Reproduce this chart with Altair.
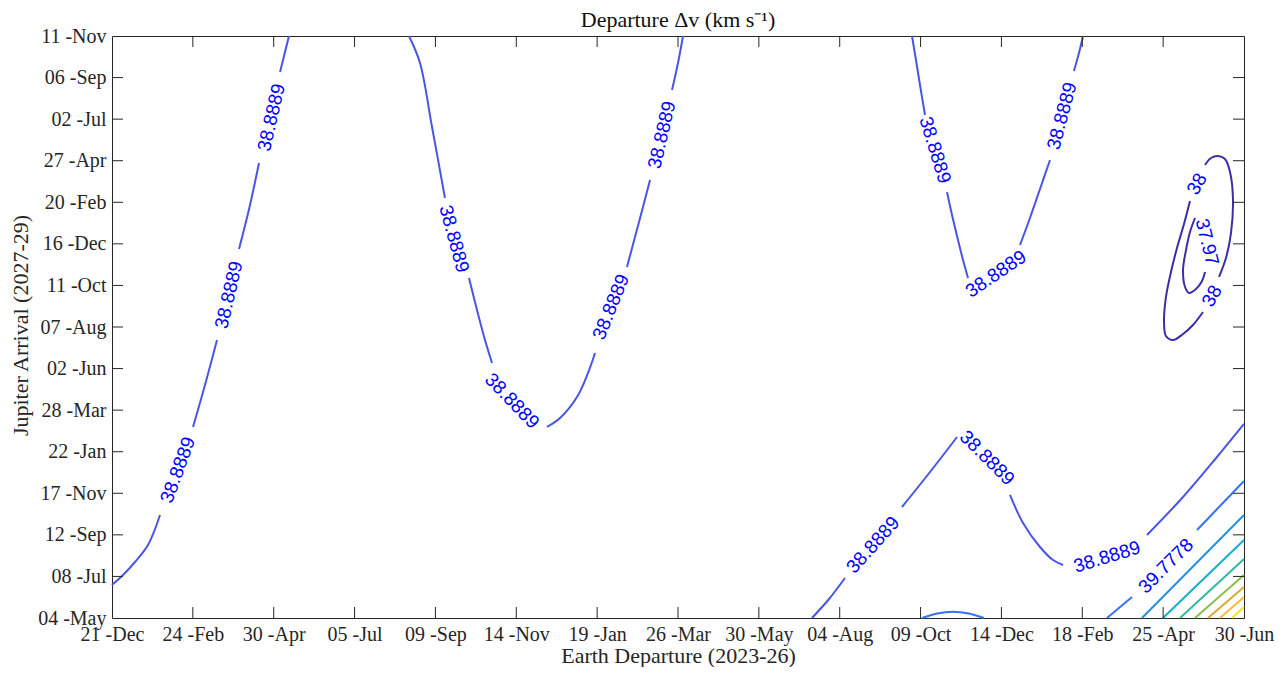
import altair as alt
import pandas as pd

# ---------------- tick labels ----------------
X_TICK_LABELS = ["21 -Dec", "24 -Feb", "30 -Apr", "05 -Jul", "09 -Sep", "14 -Nov", "19 -Jan",
                 "26 -Mar", "30 -May", "04 -Aug", "09 -Oct", "14 -Dec", "18 -Feb", "25 -Apr", "30 -Jun"]
Y_TICK_LABELS = ["04 -May", "08 -Jul", "12 -Sep", "17 -Nov", "22 -Jan", "28 -Mar", "02 -Jun",
                 "07 -Aug", "11 -Oct", "16 -Dec", "20 -Feb", "27 -Apr", "02 -Jul", "06 -Sep", "11 -Nov"]

# ---------------- contour segments (x, y in tick-interval units) ----------------
# level 38.8889, left branch
A1_X = [0.000, 0.136, 0.284, 0.445, 0.594]; A1_Y = [0.794, 1.034, 1.347, 1.756, 2.478]
A2_X = [1.002, 1.150, 1.299];               A2_Y = [4.595, 5.605, 6.687]
A3_X = [1.571, 1.707, 1.818];               A3_Y = [8.876, 9.935, 10.945]
A4_X = [2.078, 2.189];                      A4_Y = [13.134, 14.0]
# level 38.8889, middle U
B1_X = [3.673, 3.809, 3.958, 4.118];        B1_Y = [14.0, 13.351, 11.811, 10.103]
B2_X = [4.415, 4.514, 4.613, 4.700];        B2_Y = [8.179, 7.409, 6.687, 6.134]
B3_X = [5.380, 5.541, 5.751, 5.887, 5.974]; B3_Y = [4.595, 4.811, 5.316, 5.894, 6.375]
B4_X = [6.369, 6.468, 6.567, 6.654];        B4_Y = [8.443, 9.165, 9.887, 10.536]
B5_X = [6.926, 7.000, 7.062];               B5_Y = [12.701, 13.351, 14.0]
# level 38.8889, right U
C1_X = [9.894, 9.943, 9.993, 10.055];       C1_Y = [14.0, 13.423, 12.821, 12.100]
C2_X = [10.327, 10.389, 10.463, 10.525, 10.587]; C2_Y = [10.248, 9.694, 9.093, 8.612, 8.179]
C3_X = [11.230, 11.353, 11.477, 11.601];    C3_Y = [8.973, 9.622, 10.320, 11.017]
C4_X = [11.897, 11.959, 12.009];            C4_Y = [13.158, 13.591, 14.0]
# level 38.8889, lower curve
D1_X = [8.657, 8.868, 9.065];               D1_Y = [0.0, 0.457, 0.962]
D2_X = [9.770, 10.117, 10.451];             D2_Y = [2.670, 3.512, 4.354]
D3_X = [11.106, 11.267, 11.477, 11.638, 11.762]; D3_Y = [2.959, 2.285, 1.708, 1.395, 1.275]
D4_X = [12.800, 13.246, 13.666, 14.0];      D4_Y = [1.997, 2.911, 3.873, 4.667]
# level 39.7778
E1_X = [12.306, 12.615];                    E1_Y = [0.0, 0.505]
E2_X = [13.419, 13.703, 14.0];              E2_Y = [2.117, 2.694, 3.296]
ARC_X = [10.018, 10.203, 10.401, 10.599, 10.784]; ARC_Y = [0.0, 0.108, 0.152, 0.108, 0.0]
# higher levels, bottom-right corner: start on bottom edge, end on right edge
F_X0 = [12.738, 12.998, 13.209, 13.394, 13.555, 13.703, 13.852]
F_Y1 = [2.478, 1.876, 1.419, 1.034, 0.746, 0.505, 0.265]
F_COLORS = ["#2291de", "#12b0cc", "#33b99e", "#86bf4d", "#dcaa33", "#f7bd30", "#f6e31c"]
# level 38 (outer ellipse)
G1_X = [13.518, 13.592, 13.678, 13.765, 13.827, 13.864, 13.839, 13.777, 13.691]
G1_Y = [10.897, 11.065, 11.114, 11.041, 10.729, 10.055, 9.261, 8.660, 8.203]
G2_X = [13.493, 13.369, 13.246, 13.122, 13.035, 13.011, 13.035, 13.097, 13.171, 13.258, 13.332]
G2_Y = [7.361, 7.048, 6.832, 6.687, 6.784, 7.120, 7.722, 8.323, 8.900, 9.478, 10.031]
# level 37.97 (inner ellipse)
H_X = [13.394, 13.332, 13.283, 13.246, 13.271, 13.320, 13.406, 13.481, 13.518]
H_Y = [9.622, 9.285, 8.852, 8.371, 7.962, 7.818, 7.914, 8.107, 8.323]

# ---------------- inline contour labels ----------------
LABEL_TEXT = ["38.8889"] * 13 + ["39.7778", "38", "38", "37.97"]
LABEL_X = [0.816, 1.447, 1.973, 4.230, 4.947, 6.171, 6.802, 10.178, 10.933, 11.749,
           9.412, 10.822, 12.306, 13.035, 13.419, 13.604, 13.542]
LABEL_Y = [3.560, 7.770, 12.040, 9.117, 5.220, 7.481, 11.619, 11.258, 8.275, 12.076,
           1.756, 3.849, 1.467, 1.251, 10.440, 7.746, 9.045]
LABEL_ANGLE = [290, 283, 283, 75, 46, 292, 283, 73, 326, 285, 312, 45, 343, 315, 300, 300, 76]

C_38 = "#3b2ea6"
C_3889 = "#4b55e4"
C_3978 = "#3574f0"

segments = [
    ("A1", A1_X, A1_Y, C_3889), ("A2", A2_X, A2_Y, C_3889), ("A3", A3_X, A3_Y, C_3889), ("A4", A4_X, A4_Y, C_3889),
    ("B1", B1_X, B1_Y, C_3889), ("B2", B2_X, B2_Y, C_3889), ("B3", B3_X, B3_Y, C_3889), ("B4", B4_X, B4_Y, C_3889),
    ("B5", B5_X, B5_Y, C_3889),
    ("C1", C1_X, C1_Y, C_3889), ("C2", C2_X, C2_Y, C_3889), ("C3", C3_X, C3_Y, C_3889), ("C4", C4_X, C4_Y, C_3889),
    ("D1", D1_X, D1_Y, C_3889), ("D2", D2_X, D2_Y, C_3889), ("D3", D3_X, D3_Y, C_3889), ("D4", D4_X, D4_Y, C_3889),
    ("E1", E1_X, E1_Y, C_3978), ("E2", E2_X, E2_Y, C_3978), ("ARC", ARC_X, ARC_Y, C_3978),
    ("G1", G1_X, G1_Y, C_38), ("G2", G2_X, G2_Y, C_38), ("H", H_X, H_Y, C_38),
]
for k, (x0, y1, col) in enumerate(zip(F_X0, F_Y1, F_COLORS)):
    segments.append((f"F{k + 1}", [x0, 14.0], [0.0, y1], col))

rows = []
for name, xs, ys, col in segments:
    for i, (xv, yv) in enumerate(zip(xs, ys)):
        rows.append({"seg": name, "i": i, "x": xv, "y": yv, "color": col})
lines_df = pd.DataFrame(rows)

labels_df = pd.DataFrame({"x": LABEL_X, "y": LABEL_Y, "text": LABEL_TEXT, "angle": LABEL_ANGLE})
xticks_df = pd.DataFrame({"x": list(range(1, 14))})
yticks_df = pd.DataFrame({"y": list(range(1, 14))})

W, H = 1132, 582
AX = "#262626"
SERIF = "Liberation Serif"

x_scale = alt.Scale(domain=[0, 14], nice=False, zero=False)
y_scale = alt.Scale(domain=[0, 14], nice=False, zero=False)


def lab_expr(labels):
    parts = " : ".join([f"datum.value == {i} ? '{t}'" for i, t in enumerate(labels)])
    return parts + " : ''"


x_axis = alt.Axis(
    values=list(range(15)), labelExpr=lab_expr(X_TICK_LABELS),
    title="Earth Departure (2023-26)", grid=False, ticks=False, domain=False,
    labelFlush=False, labelOverlap=False, labelBaseline="alphabetic", labelPadding=22,
    labelFont=SERIF, labelFontSize=20, labelColor=AX,
    titleFont=SERIF, titleFontSize=22, titleFontWeight="normal", titleColor=AX,
    titleBaseline="alphabetic", titleX=566, titleY=44, titleAlign="center",
)
y_axis = alt.Axis(
    values=list(range(15)), labelExpr=lab_expr(Y_TICK_LABELS),
    title="Jupiter Arrival (2027-29)", grid=False, ticks=False, domain=False,
    labelFlush=False, labelOverlap=False, labelBaseline="middle", labelPadding=6,
    labelFont=SERIF, labelFontSize=20, labelColor=AX,
    titleFont=SERIF, titleFontSize=22, titleFontWeight="normal", titleColor=AX,
    titleAngle=270, titleBaseline="alphabetic", titleX=-85, titleY=289, titleAlign="center",
)

X_ENC = alt.X("x:Q", scale=x_scale, axis=x_axis)
Y_ENC = alt.Y("y:Q", scale=y_scale, axis=y_axis)

lines = alt.Chart(lines_df).mark_line(strokeWidth=2, interpolate="catmull-rom").encode(
    x=X_ENC,
    y=Y_ENC,
    detail="seg:N",
    order="i:Q",
    color=alt.Color("color:N", scale=None),
)

labels = alt.Chart(labels_df).mark_text(
    font="Liberation Sans", fontSize=19, color="#0000ff", align="center", baseline="middle"
).encode(
    x=X_ENC,
    y=Y_ENC,
    text="text:N",
    angle=alt.Angle("angle:Q", scale=None),
)

TL = 11
tick_bottom = alt.Chart(xticks_df).mark_rule(color=AX, strokeWidth=1).encode(
    x=X_ENC, y=alt.value(H), y2=alt.value(H - TL))
tick_top = alt.Chart(xticks_df).mark_rule(color=AX, strokeWidth=1).encode(
    x=X_ENC, y=alt.value(0), y2=alt.value(TL))
tick_left = alt.Chart(yticks_df).mark_rule(color=AX, strokeWidth=1).encode(
    y=Y_ENC, x=alt.value(0), x2=alt.value(TL))
tick_right = alt.Chart(yticks_df).mark_rule(color=AX, strokeWidth=1).encode(
    y=Y_ENC, x=alt.value(W), x2=alt.value(W - TL))

chart = alt.layer(lines, labels, tick_bottom, tick_top, tick_left, tick_right).properties(
    width=W, height=H,
    autosize=alt.AutoSizeParams(type="none"),
    padding={"left": 104, "top": 28, "right": 32, "bottom": 49},
    background="white",
    title=alt.TitleParams(
        text="Departure Δv (km s⁻¹)", font=SERIF, fontSize=22, fontWeight="normal",
        color="#111111", baseline="alphabetic", offset=-23, anchor="middle", frame="group",
    ),
).configure_view(stroke=AX, strokeWidth=1).configure_title(font=SERIF, fontWeight="normal")

chart.save("out.html", embed_options={"renderer": "svg", "actions": False})
